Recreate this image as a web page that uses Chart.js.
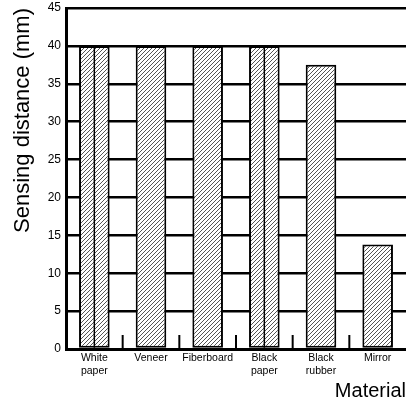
<!DOCTYPE html>
<html>
<head>
<meta charset="utf-8">
<script src="https://cdn.jsdelivr.net/npm/chart.js@4/dist/chart.umd.min.js"></script>
<style>
  html, body { margin: 0; padding: 0; background: #fff; }
  #wrap { width: 406px; height: 403px; }
</style>
</head>
<body>
<div id="wrap"><canvas id="chart"></canvas></div>
<script>
// data
var materials = [["White", "paper"], "Veneer", "Fiberboard", ["Black", "paper"], ["Black", "rubber"], "Mirror"];
var distances = [40, 40, 40, 40, 37.5, 13.8];
var splitBars = [true, false, false, true, false, false]; // bars drawn with a line down the middle
var yTicks = [0, 5, 10, 15, 20, 25, 30, 35, 40, 45];

// hatch pattern "/"
function makeHatch() {
    var s = 4;
    var c = document.createElement('canvas');
    c.width = s; c.height = s;
    var g = c.getContext('2d');
    g.fillStyle = '#fff';
    g.fillRect(0, 0, s, s);
    g.strokeStyle = '#555';
    g.lineWidth = 1;
    g.beginPath();
    g.moveTo(0, s); g.lineTo(s, 0);
    g.moveTo(-1, 1); g.lineTo(1, -1);
    g.moveTo(s - 1, s + 1); g.lineTo(s + 1, s - 1);
    g.stroke();
    return g.createPattern(c, 'repeat');
}

// small ticks between categories, and the split line in some bars
var extras = {
    id: 'extras',
    afterDatasetsDraw: function(chart) {
        var ctx = chart.ctx;
        var x = chart.scales.x, y = chart.scales.y;
        ctx.save();
        ctx.strokeStyle = '#000';
        ctx.lineWidth = 2;
        for (var i = 1; i < materials.length; i++) {
            var px = (x.getPixelForValue(i - 1) + x.getPixelForValue(i)) / 2;
            ctx.beginPath();
            ctx.moveTo(px, y.bottom);
            ctx.lineTo(px, y.bottom - 14);
            ctx.stroke();
        }
        ctx.lineWidth = 1.5;
        chart.getDatasetMeta(0).data.forEach(function(bar, j) {
            if (!splitBars[j]) return;
            ctx.beginPath();
            ctx.moveTo(bar.x, bar.y);
            ctx.lineTo(bar.x, bar.base);
            ctx.stroke();
        });
        ctx.restore();
    }
};

new Chart(document.getElementById('chart'), {
    type: 'bar',
    data: {
        labels: materials,
        datasets: [{
            data: distances,
            backgroundColor: makeHatch(),
            borderColor: '#000',
            borderWidth: 2,
            borderSkipped: false,
            categoryPercentage: 1,
            barPercentage: 0.54
        }]
    },
    options: {
        responsive: true,
        maintainAspectRatio: false,
        animation: false,
        events: [],
        layout: { padding: { top: 0, right: 0, left: 0, bottom: 0 } },
        plugins: { legend: { display: false }, tooltip: { enabled: false } },
        scales: {
            x: {
                grid: { display: false, drawTicks: false },
                border: { display: true, color: '#000', width: 3 },
                ticks: {
                    color: '#000',
                    maxRotation: 0,
                    autoSkip: false,
                    padding: 3,
                    font: { family: '"Liberation Sans Narrow", "Liberation Sans", Arial, sans-serif', size: 10.5, lineHeight: 1.2 }
                },
                title: {
                    display: true,
                    text: 'Material',
                    align: 'end',
                    color: '#000',
                    padding: { top: 4, bottom: 0 },
                    font: { family: '"Liberation Sans", Arial, sans-serif', size: 20 }
                },
                afterFit: function(s) { s.height = 54; }
            },
            y: {
                min: 0,
                max: 45,
                afterBuildTicks: function(s) { s.ticks = yTicks.map(function(v) { return { value: v }; }); },
                grid: { color: '#000', lineWidth: 2.5, drawTicks: false },
                border: { display: true, color: '#000', width: 3 },
                ticks: {
                    color: '#000',
                    padding: 5,
                    font: { family: '"Liberation Sans", Arial, sans-serif', size: 12 }
                },
                title: {
                    display: true,
                    text: 'Sensing distance (mm)',
                    align: 'end',
                    color: '#000',
                    padding: { top: 10, bottom: 0 },
                    font: { family: '"Liberation Sans", Arial, sans-serif', size: 22 }
                },
                afterFit: function(s) { s.width = 66; s.paddingTop = 8; }
            }
        }
    },
    plugins: [extras]
});
</script>
</body>
</html>
